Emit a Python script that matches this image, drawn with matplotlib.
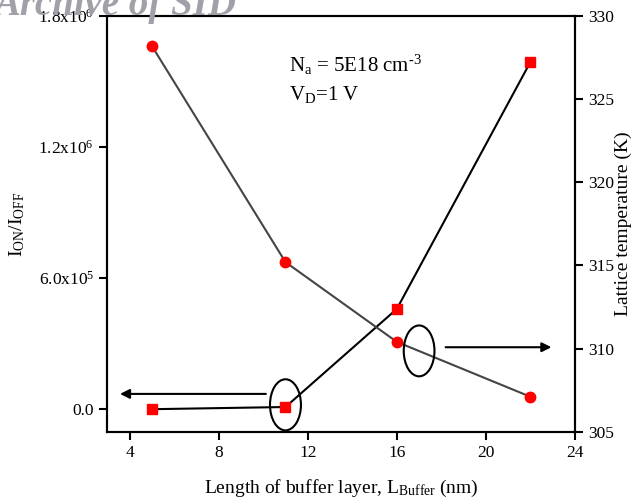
import numpy as np
import matplotlib.pyplot as plt
from matplotlib.patches import Ellipse

plt.rcParams['font.family'] = ['Liberation Serif', 'DejaVu Serif']
plt.rcParams['mathtext.fontset'] = 'custom'
plt.rcParams['mathtext.rm'] = 'Liberation Serif'
plt.rcParams['mathtext.it'] = 'Liberation Serif:italic'

# data
l_buffer = [5, 11, 16, 22]
on_off_ratio = [0.0, 1.0e4, 4.59e5, 1.59e6]
lattice_temp = [328.2, 315.2, 310.4, 307.1]

x_ticks = [4, 8, 12, 16, 20, 24]
left_ticks = [0.0, 6.0e5, 1.2e6, 1.8e6]
left_labels = ['0.0', r'6.0x10$^{5}$', r'1.2x10$^{6}$', r'1.8x10$^{6}$']
right_ticks = [305, 310, 315, 320, 325, 330]

fig = plt.figure(figsize=(6.33, 5), dpi=100)
ax = fig.add_axes([0.1695, 0.1366, 0.7389, 0.8314])
ax2 = ax.twinx()

ax.plot(l_buffer, on_off_ratio, color='black', lw=1.5, marker='s',
        markersize=6.5, markerfacecolor='red', markeredgecolor='red', zorder=3)
ax2.plot(l_buffer, lattice_temp, color='#444444', lw=1.5, marker='o',
         markersize=7.5, markerfacecolor='red', markeredgecolor='red', zorder=3)

ax.set_xlim(3, 24)
ax.set_ylim(-1.03e5, 1.8e6)
ax2.set_ylim(305, 330)

ax.set_xticks(x_ticks)
ax.set_yticks(left_ticks)
ax.set_yticklabels(left_labels)
ax2.set_yticks(right_ticks)

for a in (ax, ax2):
    for s in a.spines.values():
        s.set_linewidth(1.5)
    a.tick_params(direction='out', length=6, width=1.5, labelsize=12.5)

ax.set_xlabel(r'Length of buffer layer, L$_{\mathrm{Buffer}}$ (nm)', fontsize=14, labelpad=12)
ax.set_ylabel(r'I$_{\mathrm{ON}}$/I$_{\mathrm{OFF}}$', fontsize=14, labelpad=8)
ax2.set_ylabel('Lattice temperature (K)', fontsize=14, labelpad=0)

ax.text(0.388, 0.865, r'N$_{\mathrm{a}}$ = 5E18 cm$^{\text{-3}}$', transform=ax.transAxes, fontsize=15)
ax.text(0.388, 0.798, r'V$_{\mathrm{D}}$=1 V', transform=ax.transAxes, fontsize=15)

ax.add_patch(Ellipse((11, 2e4), 1.39, 2.34e5, fill=False, lw=1.5, color='black', zorder=4))
ax2.add_patch(Ellipse((17, 309.86), 1.38, 3.06, fill=False, lw=1.5, color='black', zorder=4))

ax.annotate('', xy=(3.57, 7.0e4), xytext=(10.12, 7.0e4),
            arrowprops=dict(arrowstyle='-|>', color='black', lw=1.5, mutation_scale=14,
                            shrinkA=0, shrinkB=0))
ax2.annotate('', xy=(22.94, 310.08), xytext=(18.19, 310.08),
             arrowprops=dict(arrowstyle='-|>', color='black', lw=1.5, mutation_scale=14,
                             shrinkA=0, shrinkB=0))

fig.text(-0.01, 0.97, 'Archive of SID', fontsize=28, fontweight='bold', style='italic',
         color='#a0a0a8', va='baseline', ha='left')

fig.savefig('out.png', dpi=100)
